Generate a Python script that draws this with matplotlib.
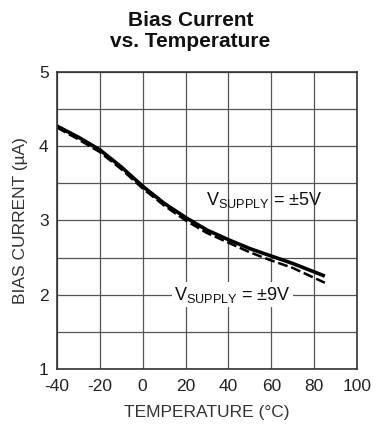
import numpy as np
import matplotlib.pyplot as plt

plt.rcParams['font.family'] = ['Liberation Sans', 'DejaVu Sans']
plt.rcParams['mathtext.fontset'] = 'custom'
plt.rcParams['mathtext.rm'] = 'Liberation Sans'
plt.rcParams['axes.unicode_minus'] = False

# Datos
temp = [-40, -30, -20, -10, 0, 10, 20, 30, 40, 50, 60, 70, 85]
i_5v = [4.27, 4.12, 3.95, 3.72, 3.46, 3.23, 3.04, 2.87, 2.74, 2.62, 2.52, 2.42, 2.25]
i_9v = [4.25, 4.09, 3.92, 3.69, 3.43, 3.20, 3.00, 2.83, 2.70, 2.57, 2.46, 2.36, 2.16]

x_ticks = [-40, -20, 0, 20, 40, 60, 80, 100]
y_ticks = [1, 2, 3, 4, 5]


def main():
    fig = plt.figure(figsize=(3.77, 4.30), dpi=100)
    ax = fig.add_axes([0.151, 0.142, 0.796, 0.691])

    ax.plot(temp, i_5v, color='black', linewidth=2.6, solid_capstyle='butt')
    ax.plot(temp, i_9v, color='black', linewidth=1.8, linestyle=(0, (4, 1.5)))

    ax.set_xlim(-40, 100)
    ax.set_ylim(1, 5)
    ax.set_xticks(x_ticks)
    ax.set_yticks(y_ticks)
    ax.set_xticks(np.arange(-40, 101, 20), minor=True)
    ax.set_yticks(np.arange(1, 5.01, 0.5), minor=True)
    ax.grid(which='both', color='#555555', linewidth=0.9)
    ax.tick_params(which='both', length=0, labelsize=12.5, colors='#222222')
    ax.tick_params(axis='x', pad=7)
    ax.tick_params(axis='y', pad=6)
    for s in ax.spines.values():
        s.set_color('#333333')
        s.set_linewidth(1.2)

    ax.text(57, 3.28, r'V$_{\mathregular{SUPPLY}}$ = ±5V', fontsize=13,
            ha='center', va='center', color='#111111')
    ax.text(42, 2.0, r'V$_{\mathregular{SUPPLY}}$ = ±9V', fontsize=13,
            ha='center', va='center', color='#111111',
            bbox=dict(facecolor='white', edgecolor='none', pad=1.5))

    ax.set_xlabel('TEMPERATURE (°C)', fontsize=12.5, color='#333333', labelpad=8)
    ax.set_ylabel('BIAS CURRENT (µA)', fontsize=12.5, color='#333333', labelpad=8)
    fig.suptitle('Bias Current\nvs. Temperature', fontsize=15, fontweight='bold',
                 x=0.505, y=0.975, linespacing=1.15, color='#111111')

    fig.savefig('out.png', dpi=100)


if __name__ == "__main__":
    main()
